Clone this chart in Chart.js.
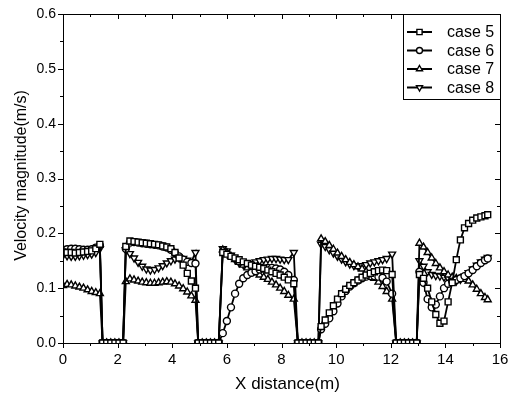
<!DOCTYPE html>
<html>
<head>
<meta charset="utf-8">
<script src="https://cdn.jsdelivr.net/npm/chart.js@4.4.0/dist/chart.umd.min.js"></script>
<style>
  html, body { margin: 0; padding: 0; background: #fff; }
</style>
</head>
<body>
<canvas id="velChart" width="515" height="397"></canvas>
<script>
// sample positions along the channel (m)
var xDist = [
  0, 0.15, 0.3, 0.45, 0.6, 0.75, 0.9, 1.05, 1.2, 1.35,
  1.45, 1.6, 1.75, 1.9, 2.05, 2.2,
  2.3, 2.45, 2.6, 2.75, 2.9, 3.05, 3.2, 3.35, 3.5, 3.65, 3.8, 3.95, 4.1, 4.25, 4.4, 4.55, 4.7, 4.85,
  4.95, 5.1, 5.25, 5.4, 5.55, 5.7,
  5.85, 6.0, 6.15, 6.3, 6.45, 6.6, 6.75, 6.9, 7.05, 7.2, 7.35, 7.5, 7.65, 7.8, 7.95, 8.1, 8.25, 8.45,
  8.6, 8.75, 8.9, 9.05, 9.2, 9.35,
  9.45, 9.6, 9.75, 9.9, 10.05, 10.2, 10.35, 10.5, 10.65, 10.8, 10.95, 11.1, 11.25, 11.4, 11.55, 11.7, 11.85, 12.05,
  12.2, 12.35, 12.5, 12.65, 12.8, 12.95,
  13.05, 13.2, 13.35, 13.5, 13.65, 13.8, 13.95, 14.1, 14.25, 14.4, 14.55, 14.7, 14.85, 15.0, 15.15, 15.3, 15.45, 15.55
];

// velocity magnitude (m/s) for each case
var case5 = [
  0.166, 0.165, 0.165, 0.164, 0.165, 0.166, 0.167, 0.168, 0.172, 0.18,
  0, 0, 0, 0, 0, 0,
  0.176, 0.186, 0.185, 0.184, 0.183, 0.182, 0.181, 0.18, 0.179, 0.177, 0.175, 0.172, 0.165, 0.155, 0.142, 0.127, 0.113, 0.1,
  0, 0, 0, 0, 0, 0,
  0.165, 0.162, 0.158, 0.155, 0.152, 0.148, 0.145, 0.142, 0.14, 0.138, 0.136, 0.133, 0.13, 0.127, 0.124, 0.12, 0.115, 0.108,
  0, 0, 0, 0, 0, 0,
  0.03, 0.042, 0.055, 0.068, 0.08, 0.09, 0.098, 0.105, 0.11, 0.115, 0.12, 0.124, 0.127, 0.13, 0.132, 0.133, 0.132, 0.125,
  0, 0, 0, 0, 0, 0,
  0.125, 0.118, 0.1, 0.075, 0.052, 0.036, 0.04, 0.075, 0.11, 0.152, 0.188, 0.21, 0.218, 0.224, 0.228, 0.23, 0.232, 0.234
];
var case6 = [
  0.17, 0.171, 0.172, 0.172, 0.171, 0.17, 0.17, 0.171, 0.174, 0.178,
  0, 0, 0, 0, 0, 0,
  0.172, 0.183, 0.184, 0.183, 0.182, 0.181, 0.18, 0.179, 0.178, 0.176, 0.174, 0.17, 0.164, 0.158, 0.152, 0.148, 0.146, 0.145,
  0, 0, 0, 0, 0, 0,
  0.018, 0.04, 0.065, 0.09, 0.108, 0.118, 0.124, 0.128, 0.131, 0.134, 0.136, 0.137, 0.137, 0.136, 0.134, 0.13, 0.124, 0.115,
  0, 0, 0, 0, 0, 0,
  0.025, 0.035, 0.045, 0.058, 0.072, 0.085, 0.095, 0.103, 0.109, 0.114, 0.118, 0.121, 0.122, 0.122, 0.121, 0.119, 0.112, 0.09,
  0, 0, 0, 0, 0, 0,
  0.13, 0.11, 0.08, 0.065, 0.07, 0.085, 0.1, 0.108, 0.112, 0.115, 0.118, 0.122, 0.127, 0.133, 0.14, 0.146, 0.151, 0.154
];
var case7 = [
  0.105, 0.107, 0.106, 0.104, 0.102, 0.1, 0.097, 0.094, 0.092, 0.09,
  0, 0, 0, 0, 0, 0,
  0.112, 0.117, 0.115, 0.113, 0.111, 0.11, 0.109, 0.109, 0.11, 0.111, 0.112, 0.111, 0.108, 0.104, 0.099, 0.093, 0.086, 0.078,
  0, 0, 0, 0, 0, 0,
  0.17, 0.165, 0.158, 0.152, 0.147, 0.142, 0.137, 0.133, 0.128, 0.124, 0.12, 0.116, 0.111, 0.106, 0.1, 0.094, 0.087, 0.08,
  0, 0, 0, 0, 0, 0,
  0.19, 0.185, 0.178, 0.171, 0.164, 0.158, 0.152, 0.147, 0.143, 0.139, 0.135, 0.13, 0.125, 0.118, 0.111, 0.103, 0.094, 0.08,
  0, 0, 0, 0, 0, 0,
  0.182, 0.175, 0.165, 0.155, 0.145, 0.137, 0.13, 0.124, 0.12, 0.118, 0.117, 0.116, 0.113, 0.106, 0.098, 0.09, 0.083, 0.079
];
var case8 = [
  0.16, 0.159, 0.158, 0.158, 0.159, 0.16, 0.161, 0.162, 0.165, 0.172,
  0, 0, 0, 0, 0, 0,
  0.17, 0.163, 0.155, 0.147, 0.14, 0.135, 0.133, 0.134, 0.137, 0.141, 0.146, 0.15, 0.153, 0.155, 0.154, 0.151, 0.148, 0.165,
  0, 0, 0, 0, 0, 0,
  0.172, 0.168, 0.16, 0.152, 0.146, 0.143, 0.143, 0.145, 0.148, 0.15, 0.152, 0.153, 0.154, 0.154, 0.153, 0.152, 0.152, 0.165,
  0, 0, 0, 0, 0, 0,
  0.18, 0.176, 0.17, 0.164, 0.158, 0.153, 0.148, 0.144, 0.141, 0.14, 0.141, 0.143, 0.146, 0.148, 0.15, 0.152, 0.154, 0.162,
  0, 0, 0, 0, 0, 0,
  0.15, 0.14, 0.13, 0.125, 0.123, 0.122, 0.12, 0.118, 0.116, 0.113, 0.116, 0.122, 0.128, 0.135, 0.142, 0.148, 0.153, 0.156
];

var seriesNames = ["case 5", "case 6", "case 7", "case 8"];
var xTicks = [0, 2, 4, 6, 8, 10, 12, 14, 16];
var yTicks = [0.0, 0.1, 0.2, 0.3, 0.4, 0.5, 0.6];

var markerStyles = [
  { pointStyle: "rect", rotation: 0, radius: 4.2 },
  { pointStyle: "circle", rotation: 0, radius: 3.5 },
  { pointStyle: "triangle", rotation: 0, radius: 4 },
  { pointStyle: "triangle", rotation: 180, radius: 4 }
];

var FONT = "Arial, 'Liberation Sans', sans-serif";

function makeSet(i, values) {
  var m = markerStyles[i];
  return {
    label: seriesNames[i],
    data: xDist.map(function (x, k) { return { x: x, y: values[k] }; }),
    borderColor: "#000",
    borderWidth: 1.8,
    pointStyle: m.pointStyle,
    rotation: m.rotation,
    pointRadius: m.radius,
    pointBackgroundColor: "#fff",
    pointBorderColor: "#000",
    pointBorderWidth: 1.4,
    tension: 0,
    fill: false
  };
}

// frame, ticks on all four sides, labels, titles and the boxed legend
var framePlugin = {
  id: "frame",
  afterDatasetsDraw: function (chart) {
    var ctx = chart.ctx;
    var a = chart.chartArea;
    var sx = chart.scales.x, sy = chart.scales.y;
    var i, p;
    ctx.save();
    ctx.strokeStyle = "#000";
    ctx.fillStyle = "#000";
    ctx.lineWidth = 1;
    ctx.strokeRect(a.left + 0.5, a.top + 0.5, a.right - a.left, a.bottom - a.top);

    ctx.beginPath();
    for (i = 0; i < xTicks.length; i++) {
      p = Math.round(sx.getPixelForValue(xTicks[i])) + 0.5;
      ctx.moveTo(p, a.bottom); ctx.lineTo(p, a.bottom + 5);
      ctx.moveTo(p, a.top); ctx.lineTo(p, a.top + 5);
      if (i < xTicks.length - 1) {
        p = Math.round(sx.getPixelForValue((xTicks[i] + xTicks[i + 1]) / 2)) + 0.5;
        ctx.moveTo(p, a.bottom); ctx.lineTo(p, a.bottom + 3);
        ctx.moveTo(p, a.top); ctx.lineTo(p, a.top + 3);
      }
    }
    for (i = 0; i < yTicks.length; i++) {
      p = Math.round(sy.getPixelForValue(yTicks[i])) + 0.5;
      ctx.moveTo(a.left, p); ctx.lineTo(a.left - 5, p);
      ctx.moveTo(a.right, p); ctx.lineTo(a.right - 5, p);
      if (i < yTicks.length - 1) {
        p = Math.round(sy.getPixelForValue((yTicks[i] + yTicks[i + 1]) / 2)) + 0.5;
        ctx.moveTo(a.left, p); ctx.lineTo(a.left - 3, p);
        ctx.moveTo(a.right, p); ctx.lineTo(a.right - 3, p);
      }
    }
    ctx.stroke();

    // tick labels
    ctx.font = "15px " + FONT;
    ctx.textAlign = "center";
    ctx.textBaseline = "middle";
    xTicks.forEach(function (v) {
      ctx.fillText(String(v), sx.getPixelForValue(v), a.bottom + 17);
    });
    ctx.font = "14px " + FONT;
    ctx.textAlign = "right";
    yTicks.forEach(function (v) {
      ctx.fillText(v.toFixed(1), a.left - 7, sy.getPixelForValue(v));
    });

    // axis titles
    ctx.font = "17px " + FONT;
    ctx.textAlign = "center";
    ctx.fillText("X distance(m)", (a.left + a.right) / 2 + 6, a.bottom + 41);
    ctx.font = "16px " + FONT;
    ctx.save();
    ctx.translate(22, (a.top + a.bottom) / 2 - 3);
    ctx.rotate(-Math.PI / 2);
    ctx.fillText("Velocity magnitude(m/s)", 0, 0);
    ctx.restore();

    // legend
    var lx = 403, ly = a.top, lw = a.right - lx, lh = 85;
    ctx.fillStyle = "#fff";
    ctx.fillRect(lx, ly, lw, lh);
    ctx.strokeRect(lx + 0.5, ly + 0.5, lw, lh);
    ctx.font = "16px " + FONT;
    ctx.textAlign = "left";
    for (i = 0; i < seriesNames.length; i++) {
      var yy = ly + 18 + i * 18.5;
      ctx.lineWidth = 2;
      ctx.strokeStyle = "#000";
      ctx.beginPath();
      ctx.moveTo(407, yy); ctx.lineTo(432, yy);
      ctx.stroke();
      ctx.fillStyle = "#fff";
      ctx.lineWidth = 1.4;
      Chart.helpers.drawPoint(ctx, {
        pointStyle: markerStyles[i].pointStyle,
        rotation: markerStyles[i].rotation,
        radius: markerStyles[i].radius - 0.5,
        borderWidth: 1.4
      }, 419.5, yy);
      ctx.fillStyle = "#000";
      ctx.fillText(seriesNames[i], 447, yy + 1);
    }
    ctx.restore();
  }
};

var ctx = document.getElementById("velChart");
var velChart = new Chart(ctx, {
  type: "line",
  data: {
    datasets: [makeSet(0, case5), makeSet(1, case6), makeSet(2, case7), makeSet(3, case8)]
  },
  options: {
    responsive: false,
    animation: false,
    layout: { padding: { left: 63, right: 15, top: 14, bottom: 54 } },
    plugins: {
      legend: { display: false },
      tooltip: { enabled: false }
    },
    scales: {
      x: { type: "linear", min: 0, max: 16, display: false },
      y: { type: "linear", min: 0, max: 0.6, display: false }
    }
  },
  plugins: [framePlugin]
});
</script>
</body>
</html>
